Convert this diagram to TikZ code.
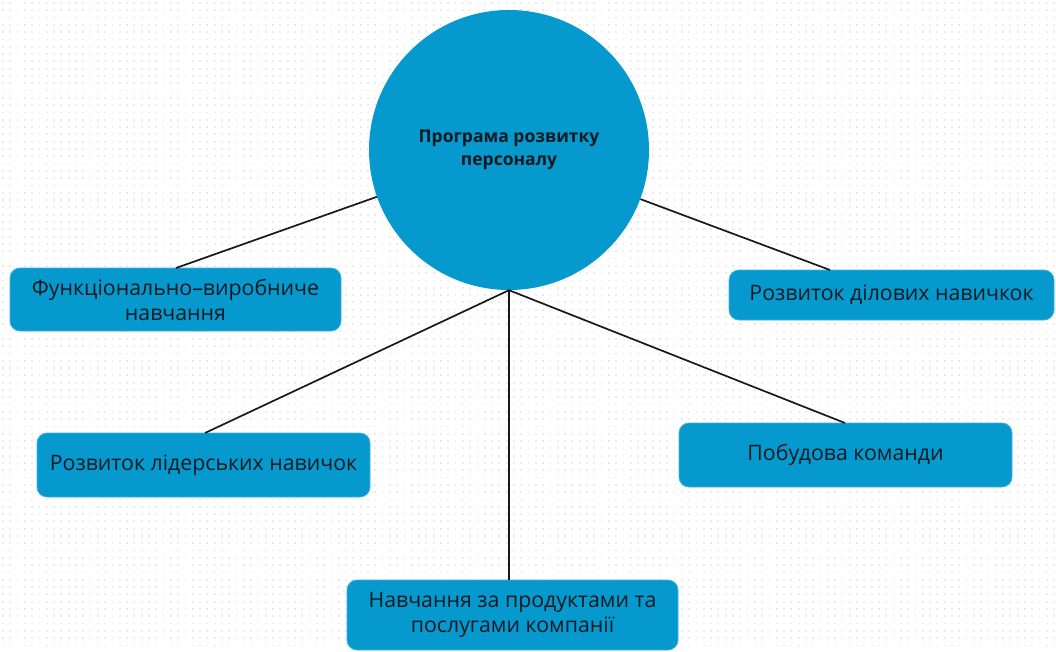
\documentclass[tikz,border=0pt]{standalone}
\usepackage{fontspec}
\setmainfont{Open Sans}
\begin{document}
\begin{tikzpicture}[x=1pt,y=-1pt]
\definecolor{boxblue}{HTML}{0599CE}
\definecolor{boxedge}{HTML}{3FB3DD}
\definecolor{txt}{HTML}{111A20}
\definecolor{dotc}{HTML}{EBEBEB}
\tikzset{
  boxnode/.style={draw=boxedge, line width=0.8, fill=boxblue, rounded corners=10,
    text=txt, font=\fontsize{21.3}{25}\selectfont, align=center, inner sep=0pt},
  conn/.style={draw=black!90, line width=1.7},
}
\useasboundingbox (0,0) rectangle (1056,652);
\fill[white] (0,0) rectangle (1056,652);
\foreach \yy in {3,10.3,...,652} {
  \draw[dotc, line width=1.8, dash pattern=on 1.8 off 5.5] (2,\yy) -- (1056,\yy);
}
\node[circle, fill=boxblue, minimum size=280, inner sep=0pt, text=txt,
  font=\bfseries\fontsize{17.5}{23}\selectfont, align=center] (c) at (509,150)
  {Програма розвитку\\персоналу};
\node[boxnode, minimum width=331, minimum height=63] (b1) at (175.5,299.5)
  {Функціонально–виробниче\\навчання};
\node[boxnode, minimum width=325, minimum height=50] (b2) at (891.5,295)
  {Розвиток ділових навичкок};
\node[boxnode, minimum width=333, minimum height=64] (b3) at (203.5,465)
  {Розвиток лідерських навичок};
\node[boxnode, minimum width=333, minimum height=64] (b4) at (845.5,455)
  {Побудова команди};
\node[boxnode, minimum width=331, minimum height=70] (b5) at (512.5,615)
  {Навчання за продуктами та\\послугами компанії};
\coordinate (t1) at (176,268);
\coordinate (t2) at (830,270);
\coordinate (t3) at (205,433);
\coordinate (t4) at (845,423);
\coordinate (t5) at (509,580);
\draw[conn] (c) -- (t1);
\draw[conn] (c) -- (t2);
\draw[conn] (c.south) -- (t3);
\draw[conn] (c.south) -- (t4);
\draw[conn] (c.south) -- (t5);
\end{tikzpicture}
\end{document}
